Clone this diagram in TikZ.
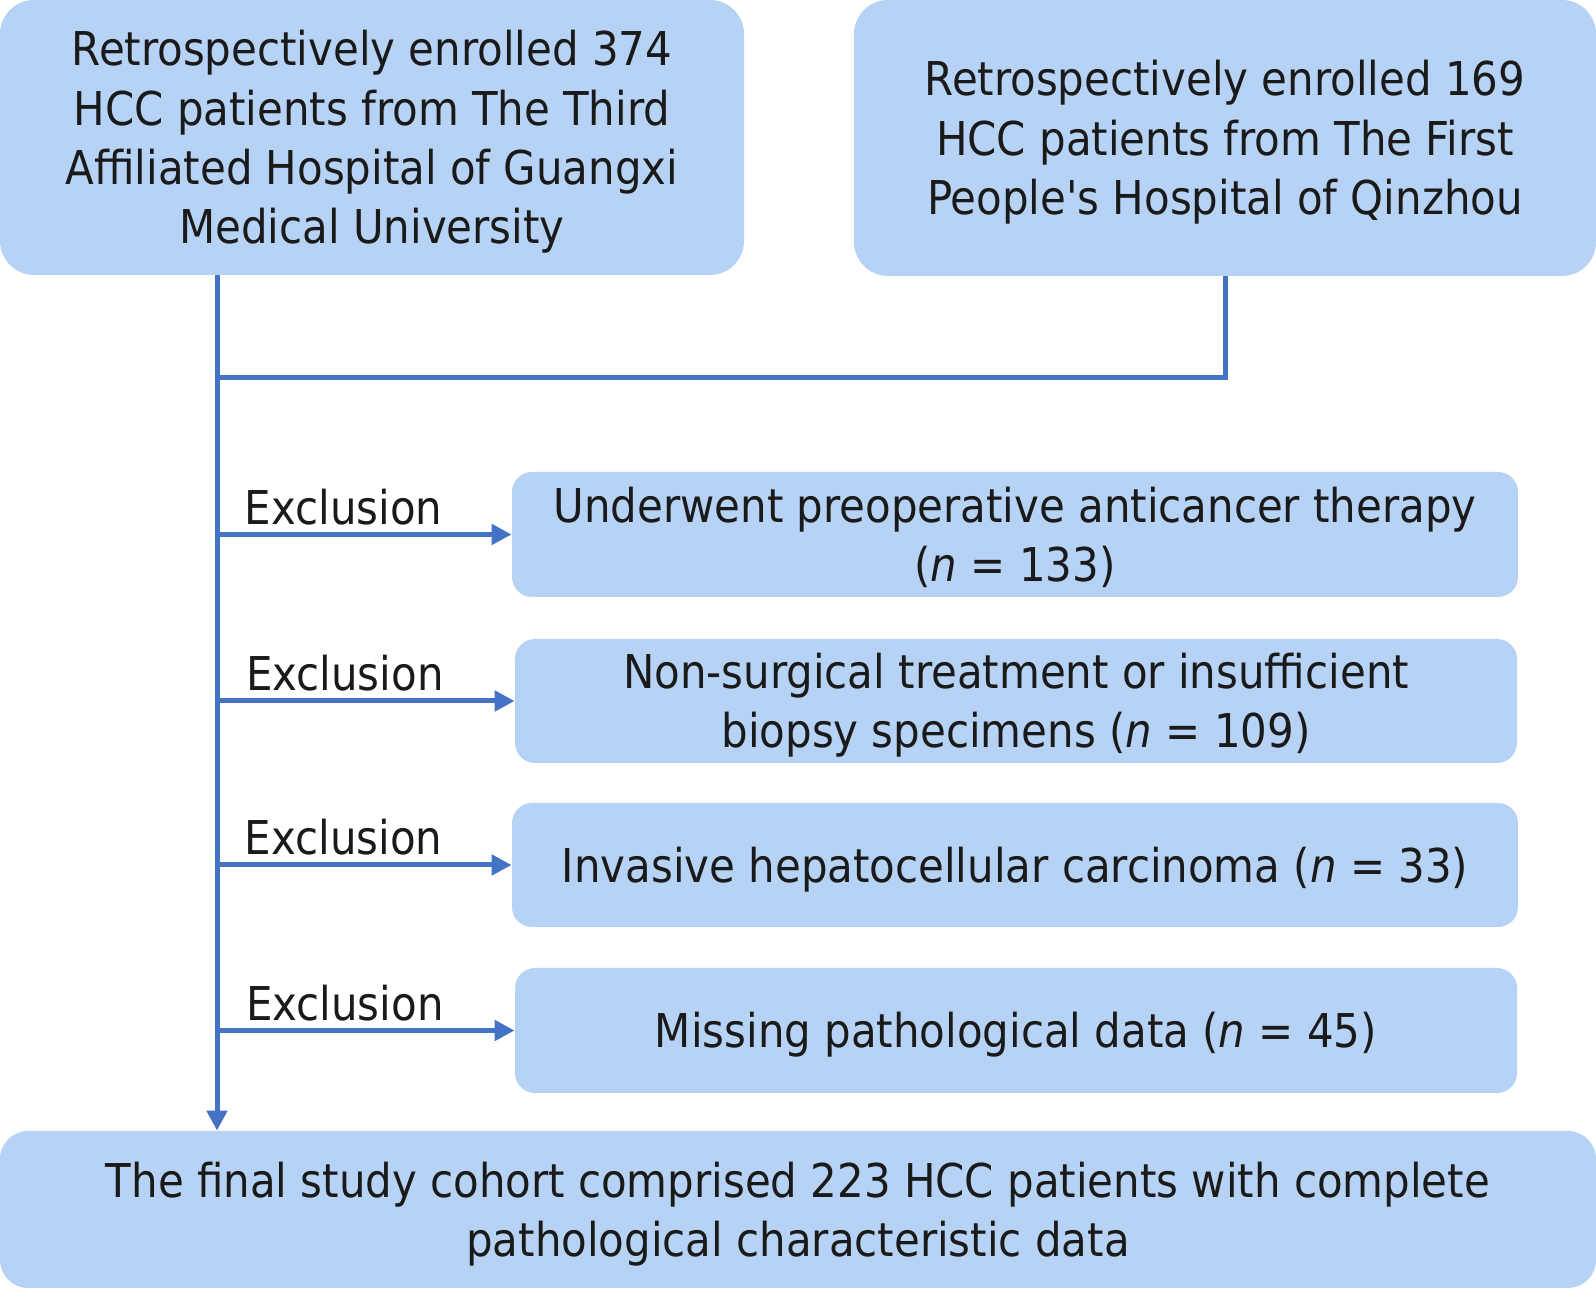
\documentclass[tikz,border=0pt]{standalone}
\usepackage{fontspec}
\setmainfont{DejaVu Sans Condensed}
\usetikzlibrary{arrows.meta}
\definecolor{boxblue}{HTML}{B6D3F5}
\definecolor{lineblue}{HTML}{4472C4}
\definecolor{inkblack}{HTML}{1A1A1A}
\begin{document}
\begin{tikzpicture}[x=0.5pt, y=0.5pt,
        bigbox/.style={fill=boxblue, rounded corners=17pt, inner sep=0pt, text depth=0.5pt, align=center, text=inkblack, font=\fontsize{23.3}{29.6}\selectfont},
        exbox/.style={fill=boxblue, rounded corners=10pt, inner sep=0pt, text depth=0.5pt, align=center, text=inkblack, font=\fontsize{23.3}{29.6}\selectfont},
        flow/.style={line width=2.5pt, lineblue},
        arr/.style={flow, -{Triangle[length=10pt, width=10pt]}},
        exlabel/.style={above, pos=0.43, inner sep=3.5pt, text=inkblack, font=\fontsize{23.3}{29.6}\selectfont}]
            \useasboundingbox (0,0) rectangle (1596,1290);
            \node[bigbox, minimum width=372pt, minimum height=137.5pt] (third) at (372,1152.5) {Retrospectively enrolled 374\\HCC patients from The Third\\Affiliated Hospital of Guangxi\\Medical University};
            \node[bigbox, minimum width=371pt, minimum height=138pt] (first) at (1225,1152) {Retrospectively enrolled 169\\HCC patients from The First\\People\textquotesingle s Hospital of Qinzhou};
            \node[exbox, minimum width=503pt, minimum height=62.5pt] (ex1) at (1015,755.5) {Underwent preoperative anticancer therapy\\(\textit{n} = 133)};
            \node[exbox, minimum width=501pt, minimum height=62pt] (ex2) at (1016,589) {Non-surgical treatment or insufficient\\biopsy specimens (\textit{n} = 109)};
            \node[exbox, minimum width=503pt, minimum height=62pt] (ex3) at (1015,425) {Invasive hepatocellular carcinoma (\textit{n} = 33)};
            \node[exbox, minimum width=501pt, minimum height=62.5pt] (ex4) at (1016,259.5) {Missing pathological data (\textit{n} = 45)};
            \node[bigbox, rounded corners=14pt, minimum width=798pt, minimum height=78.5pt] (final) at (798,80.5) {The final study cohort comprised 223 HCC patients with complete\\pathological characteristic data};
            \coordinate (spine) at (217,0);
            \coordinate (join) at (217,912);
            % trunk and merge
            \draw[arr] (third.south -| spine) -- (final.north -| spine);
            \draw[flow] (first.south) -- (first.south |- join) -- (join);
            % exclusions
            \draw[arr] (ex1.west -| spine) -- (ex1.west) node[exlabel] {Exclusion};
            \draw[arr] (ex2.west -| spine) -- (ex2.west) node[exlabel] {Exclusion};
            \draw[arr] (ex3.west -| spine) -- (ex3.west) node[exlabel] {Exclusion};
            \draw[arr] (ex4.west -| spine) -- (ex4.west) node[exlabel] {Exclusion};
        \end{tikzpicture}
\end{document}
